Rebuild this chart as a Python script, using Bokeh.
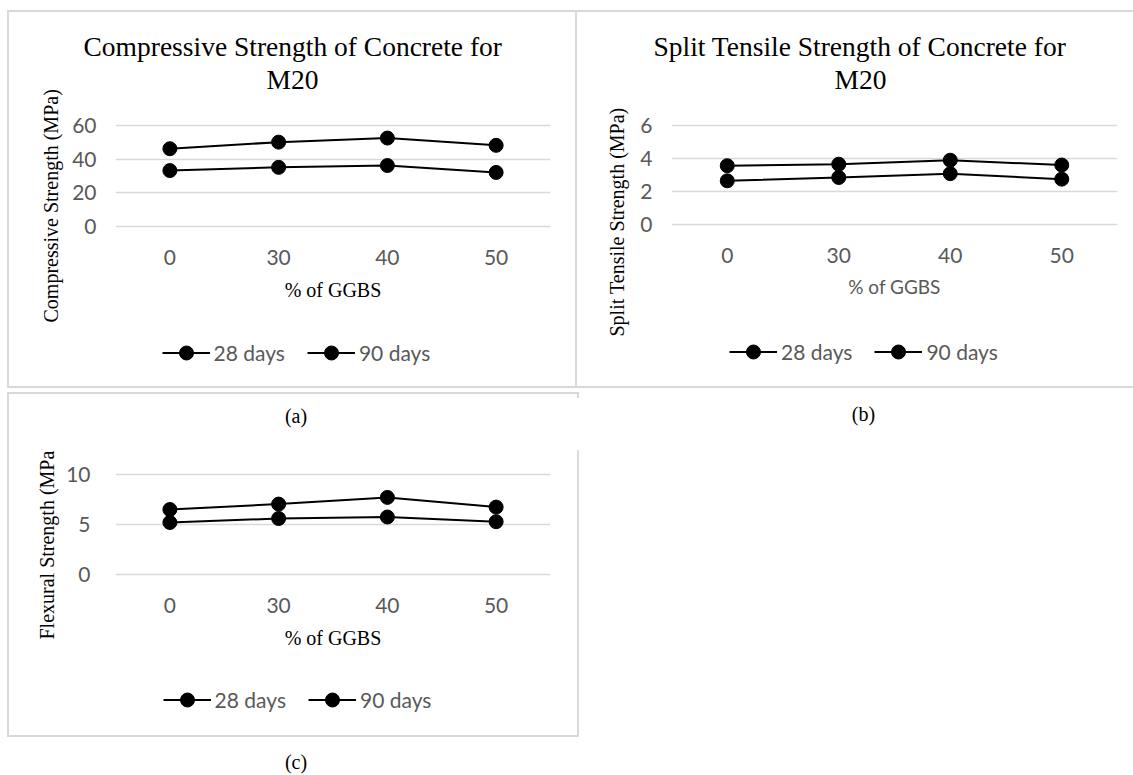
from bokeh.plotting import figure
from bokeh.models import (FactorRange, Range1d, FixedTicker, Title, Legend, LegendItem, Label)
from bokeh.layouts import column, row
from bokeh.embed import file_html
from bokeh.resources import INLINE

# ---------------- data ----------------
ggbs = ["0", "30", "40", "50"]
series_labels = ["28 days", "90 days"]

comp_28 = [33.2, 35.1, 36.2, 32.1]
comp_90 = [46.1, 50.0, 52.4, 48.1]
comp_ticks = [0, 20, 40, 60]

split_28 = [2.65, 2.85, 3.08, 2.75]
split_90 = [3.56, 3.65, 3.89, 3.60]
split_ticks = [0, 2, 4, 6]

flex_28 = [5.2, 5.6, 5.75, 5.28]
flex_90 = [6.5, 7.04, 7.71, 6.74]
flex_ticks = [0, 5, 10]

captions = ["(a)", "(b)", "(c)"]

SERIF = "Liberation Serif"
SANS = "Lato"
GRAY = "#595959"
GRID = "#d9d9d9"
NAN = float("nan")


def make_panel(fl, fw, fr, ft, fh, fb, yr, ticks, s28, s90, ystandoff,
               xlabel, xfont, xcolor, xsize, xlabel_standoff):
    p = figure(x_range=FactorRange(factors=ggbs, range_padding=0),
               y_range=Range1d(*yr),
               frame_width=fw, frame_height=fh,
               min_border_left=fl, min_border_right=fr,
               min_border_top=ft, min_border_bottom=fb,
               title_location=None,
               output_backend="svg", toolbar_location=None)
    p.outline_line_color = None
    p.background_fill_color = "white"
    p.border_fill_color = None
    p.xgrid.grid_line_color = None
    p.ygrid.grid_line_color = GRID
    p.ygrid.grid_line_width = 1.5
    p.yaxis.ticker = FixedTicker(ticks=ticks)
    for ax in (p.xaxis, p.yaxis):
        ax.axis_line_color = None
        ax.major_tick_line_color = None
        ax.minor_tick_line_color = None
        ax.major_tick_out = 0
        ax.major_tick_in = 0
        ax.major_label_text_font = SANS
        ax.major_label_text_font_size = "21px"
        ax.major_label_text_color = GRAY
    p.xaxis.major_label_standoff = 21
    p.yaxis.major_label_standoff = ystandoff
    p.xaxis.axis_label = xlabel
    p.xaxis.axis_label_text_font = xfont
    p.xaxis.axis_label_text_font_size = xsize
    p.xaxis.axis_label_text_color = xcolor
    p.xaxis.axis_label_text_font_style = "normal"
    p.xaxis.axis_label_standoff = xlabel_standoff

    p.line(x=ggbs, y=s28, line_color="black", line_width=2)
    p.scatter(x=ggbs, y=s28, size=14, color="black")
    p.line(x=ggbs, y=s90, line_color="black", line_width=2)
    p.scatter(x=ggbs, y=s90, size=14, color="black")
    return p


def add_title(p, side, text, offset, standoff, size="20px", font=SERIF,
              color="black", valign="bottom", align="left"):
    p.add_layout(Title(text=text, align=align, offset=int(round(offset)),
                       standoff=int(round(standoff)),
                       vertical_align=valign, text_font=font, text_font_size=size,
                       text_color=color, text_font_style="normal"), side)


def make_strip(x_left, x_right, y_top, y_bottom):
    """A figure with no axes whose frame is its whole canvas; coordinates are page pixels."""
    s = figure(width=x_right - x_left, height=y_bottom - y_top,
               x_range=Range1d(x_left, x_right), y_range=Range1d(y_bottom, y_top),
               x_axis_type=None, y_axis_type=None, title_location=None,
               min_border=0, min_border_left=0, min_border_right=0,
               min_border_top=0, min_border_bottom=0,
               output_backend="svg", toolbar_location=None)
    s.outline_line_color = None
    s.background_fill_color = None
    s.border_fill_color = None
    s.xgrid.grid_line_color = None
    s.ygrid.grid_line_color = None
    return s


def add_legend(s, x0, y_bottom, x_left, center_y):
    # legend proxies: no visible data point, only their style is used by the legend
    l28 = s.line(x=[NAN], y=[NAN], line_color="black", line_width=2)
    c28 = s.scatter(x=[NAN], y=[NAN], size=14, color="black")
    l90 = s.line(x=[NAN], y=[NAN], line_color="black", line_width=2)
    c90 = s.scatter(x=[NAN], y=[NAN], size=14, color="black")
    legend = Legend(items=[LegendItem(label=series_labels[0], renderers=[l28, c28]),
                           LegendItem(label=series_labels[1], renderers=[l90, c90])],
                    location=(x_left - x0, y_bottom - (center_y + 17.5)),
                    orientation="horizontal",
                    glyph_width=48, glyph_height=35, label_standoff=4, spacing=22,
                    padding=0, margin=0, border_line_color=None,
                    background_fill_alpha=0,
                    label_text_font=SANS, label_text_font_size="21px",
                    label_text_color=GRAY)
    s.add_layout(legend)


def add_caption(s, x, y, text):
    s.add_layout(Label(x=x, y=y, text=text, text_font=SERIF, text_font_size="20px",
                       text_color="black", text_align="center", text_baseline="middle"))


ROW1 = 338

# ---------------- panel (a) ----------------
pA = make_panel(115, 435, 27, 123, 105, ROW1 - 228, (-1, 61), comp_ticks, comp_28, comp_90, 19,
                "% of GGBS", SERIF, "black", "20px", 11)
add_title(pA, "above", "\u00a0", 0, 5)
add_title(pA, "above", "M20", 151, 0, size="27.5px")
add_title(pA, "above", "Compressive Strength of Concrete for", -32, 0, size="27.5px")
add_title(pA, "left", "Compressive Strength (MPa)", -94, 15)

# ---------------- panel (b) ----------------
pB = make_panel(94, 446, 16, 123, 103, ROW1 - 226, (-0.1, 6.1), split_ticks, split_28, split_90,
                19, "% of GGBS", SANS, GRAY, "19px", 9)
add_title(pB, "above", "\u00a0", 0, 5)
add_title(pB, "above", "M20", 163, 0, size="27.5px")
add_title(pB, "above", "Split Tensile Strength of Concrete for", -18, 0, size="27.5px")
add_title(pB, "left", "Split Tensile  Strength (MPa)", -110, 20)

# ---------------- legends / captions under row 1 ----------------
sA = make_strip(0, 577, ROW1, 440)
add_legend(sA, 0, 440, 161.5, 352.7)
add_caption(sA, 295.5, 415, captions[0])

sB = make_strip(577, 1133, ROW1, 440)
add_legend(sB, 577, 440, 729, 351.7)
add_caption(sB, 863, 413, captions[1])

# ---------------- panel (c) ----------------
pC = make_panel(115, 435, 583, 32, 104, 82, (-0.2, 10.2), flex_ticks, flex_28, flex_90, 25,
                "% of GGBS", SERIF, "black", "20px", 11)
add_title(pC, "left", "Flexural Strength (MPa", -63, 12)

sC = make_strip(0, 1133, 658, 775)
add_legend(sC, 0, 775, 162.6, 699.3)
add_caption(sC, 295.5, 761.7, captions[2])


# ---------------- frame lines (page background) ----------------
def seg(x, y, w, h):
    return f"linear-gradient({GRID},{GRID}) {x}px {y}px / {w}px {h}px no-repeat"


segments = [
    seg(7, 10, 570, 2), seg(7, 10, 2, 378), seg(575, 10, 2, 378), seg(7, 386, 570, 2),
    seg(575, 10, 558, 2), seg(575, 386, 558, 2),
    seg(7, 392, 572, 2), seg(7, 392, 2, 345), seg(7, 735, 572, 2),
    seg(577, 392, 2, 6), seg(577, 450, 2, 287),
]
background = ", ".join(segments) + ", #ffffff"

layout = column(row(pA, pB), row(sA, sB), row(pC), row(sC),
                styles={"background": background})
open("out.html", "w").write(file_html(layout, INLINE))
